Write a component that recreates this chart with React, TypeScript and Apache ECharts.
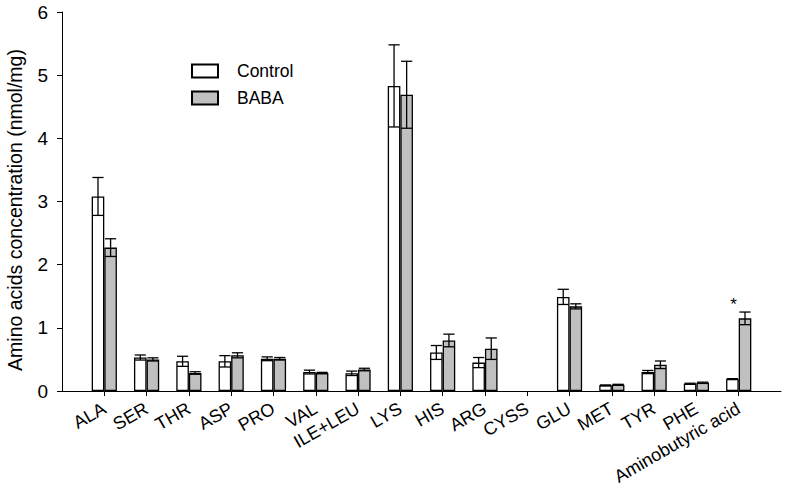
import React, { useEffect, useRef } from "react";
import * as echarts from "echarts";

// Categories padded with empty slots at both ends (axis runs from slot 0 to slot 17)
const categories = ["", "ALA", "SER", "THR", "ASP", "PRO", "VAL", "ILE+LEU", "LYS", "HIS", "ARG", "CYSS", "GLU", "MET", "TYR", "PHE", "Aminobutyric acid", ""];
const controlMean = [null, 3.08, 0.53, 0.47, 0.47, 0.51, 0.3, 0.28, 4.83, 0.61, 0.45, null, 1.49, 0.09, 0.3, 0.115, 0.19, null];
const controlErr = [null, 0.3, 0.04, 0.08, 0.09, 0.03, 0.03, 0.035, 0.65, 0.11, 0.08, null, 0.12, 0.006, 0.025, 0.008, 0.006, null];
const babaMean = [null, 2.27, 0.5, 0.285, 0.565, 0.51, 0.285, 0.34, 4.69, 0.8, 0.67, null, 1.34, 0.1, 0.415, 0.13, 1.15, null];
const babaErr = [null, 0.14, 0.025, 0.02, 0.04, 0.02, 0.01, 0.02, 0.53, 0.1, 0.17, null, 0.04, 0.006, 0.06, 0.01, 0.1, null];
const babaMarks = ["", "", "", "", "", "", "", "", "", "", "", "", "", "", "", "", "*", ""];
const yTicks = { min: 0, max: 6, interval: 1 };

const FONT = "'Liberation Sans', Arial, sans-serif";
const BAR_W = 12.6;

function errData(mean: (number | null)[], err: (number | null)[], marks?: string[]) {
  const out: any[] = [];
  mean.forEach((m, i) => {
    if (m != null && err[i] != null) out.push({ value: [i, m, err[i]], mark: marks ? marks[i] : "" });
  });
  return out;
}

function makeRender(offset: number, dataArr: any[]) {
  return (params: any, api: any) => {
    const idx = api.value(0);
    const v = api.value(1);
    const e = api.value(2);
    const top = api.coord([idx, v + e]);
    const bot = api.coord([idx, v - e]);
    const x = top[0] + offset;
    const hw = 5.6;
    const st = { stroke: "#000", lineWidth: 1.3 };
    const children: any[] = [
      { type: "line", shape: { x1: x, y1: top[1], x2: x, y2: bot[1] }, style: st },
      { type: "line", shape: { x1: x - hw, y1: top[1], x2: x + hw, y2: top[1] }, style: st },
      { type: "line", shape: { x1: x - hw, y1: bot[1], x2: x + hw, y2: bot[1] }, style: st },
    ];
    const mark = dataArr[params.dataIndex].mark;
    if (mark) {
      children.push({
        type: "text",
        x: x - 11.5,
        y: top[1] - 8,
        style: { text: mark, fill: "#000", font: `17px ${FONT}`, align: "center", verticalAlign: "middle" },
      });
    }
    return { type: "group", children };
  };
}

export default function App() {
  const ref = useRef<HTMLDivElement>(null);
  useEffect(() => {
    document.body.style.margin = "0";
    if (!ref.current) return;
    const chart = echarts.init(ref.current, undefined, { renderer: "svg" });
    const ctrlErrData = errData(controlMean, controlErr);
    const babaErrData = errData(babaMean, babaErr, babaMarks);
    chart.setOption({
      animation: false,
      backgroundColor: "#fff",
      textStyle: { fontFamily: FONT, color: "#000" },
      grid: { left: 62, right: 5, top: 12, bottom: 97 },
      legend: {
        data: ["Control", "BABA"],
        orient: "vertical",
        left: 186,
        top: 57,
        itemWidth: 26,
        itemHeight: 13,
        itemGap: 9,
        icon: "rect",
        textStyle: { fontFamily: FONT, fontSize: 17.5, color: "#000", padding: [0, 0, 0, 14] },
      },
      xAxis: {
        type: "category",
        data: categories,
        boundaryGap: false,
        axisLine: { lineStyle: { color: "#000", width: 1 } },
        axisTick: {
          length: 5,
          interval: (i: number, v: string) => v !== "",
          lineStyle: { color: "#000", width: 1 },
        },
        axisLabel: {
          interval: 0,
          rotate: 30,
          margin: 16,
          fontFamily: FONT,
          fontSize: 18,
          color: "#000",
        },
        splitLine: { show: false },
      },
      yAxis: {
        type: "value",
        min: yTicks.min,
        max: yTicks.max,
        interval: yTicks.interval,
        axisLine: { show: true, lineStyle: { color: "#000", width: 1 } },
        axisTick: { show: true, length: 5, lineStyle: { color: "#000", width: 1 } },
        axisLabel: { fontFamily: FONT, fontSize: 19, color: "#000", margin: 14 },
        splitLine: { show: false },
      },
      graphic: [
        {
          type: "text",
          x: 15,
          y: 210,
          rotation: Math.PI / 2,
          style: {
            text: "Amino acids concentration (nmol/mg)",
            font: `19.5px ${FONT}`,
            fill: "#000",
            align: "center",
            verticalAlign: "middle",
          },
        },
      ],
      series: [
        {
          name: "Control",
          type: "bar",
          data: controlMean,
          barWidth: BAR_W,
          barGap: "0%",
          itemStyle: { color: "#ffffff", borderColor: "#000", borderWidth: 1.3 },
        },
        {
          name: "BABA",
          type: "bar",
          data: babaMean,
          barWidth: BAR_W,
          barGap: "0%",
          itemStyle: { color: "#c0c0c0", borderColor: "#000", borderWidth: 1.3 },
        },
        {
          name: "ControlErr",
          type: "custom",
          data: ctrlErrData,
          renderItem: makeRender(-BAR_W / 2, ctrlErrData),
          z: 5,
          silent: true,
        },
        {
          name: "BABAErr",
          type: "custom",
          data: babaErrData,
          renderItem: makeRender(BAR_W / 2, babaErrData),
          z: 5,
          silent: true,
        },
      ],
    });
    return () => chart.dispose();
  }, []);
  return <div ref={ref} style={{ width: 786, height: 488 }} />;
}
